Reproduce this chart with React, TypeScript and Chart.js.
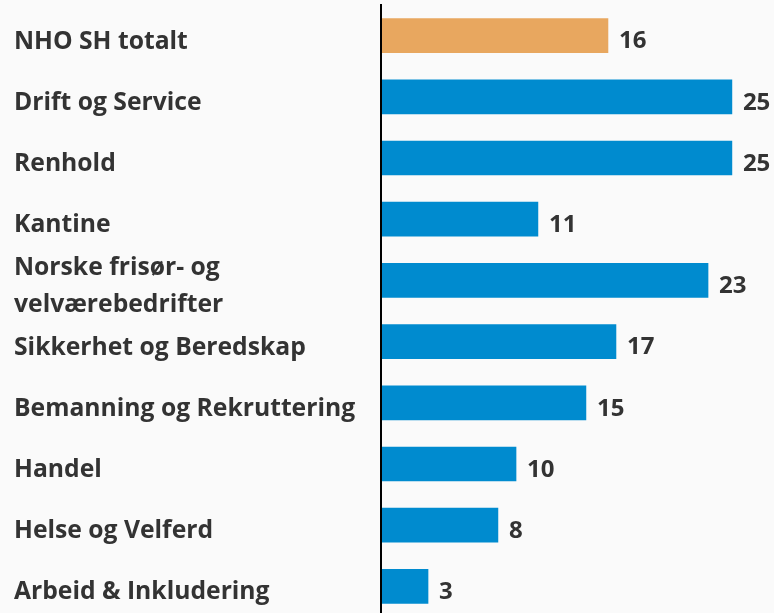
import React, { useEffect, useRef } from "react";
import { Chart, registerables } from "chart.js";

Chart.register(...registerables);

const categories: (string | string[])[] = [
  "NHO SH totalt",
  "Drift og Service",
  "Renhold",
  "Kantine",
  ["Norske frisør- og", "velværebedrifter"],
  "Sikkerhet og Beredskap",
  "Bemanning og Rekruttering",
  "Handel",
  "Helse og Velferd",
  "Arbeid & Inkludering",
];

const values = [16.17, 25.0, 25.0, 11.18, 23.3, 16.74, 14.6, 9.62, 8.33, 3.35];

const barColors = [
  "#E8A75F",
  "#008BCF",
  "#008BCF",
  "#008BCF",
  "#008BCF",
  "#008BCF",
  "#008BCF",
  "#008BCF",
  "#008BCF",
  "#008BCF",
];

const FONT_FAMILY = "'Open Sans', 'Noto Sans', sans-serif";
const TEXT_COLOR = "#333333";

const valueLabelPlugin = {
  id: "valueLabels",
  afterDatasetsDraw(chart: any) {
    const ctx = chart.ctx;
    const meta = chart.getDatasetMeta(0);
    ctx.save();
    ctx.font = `700 24px ${FONT_FAMILY}`;
    ctx.fillStyle = TEXT_COLOR;
    ctx.textAlign = "left";
    ctx.textBaseline = "middle";
    meta.data.forEach((bar: any, i: number) => {
      const v = chart.data.datasets[0].data[i] as number;
      ctx.fillText(String(Math.round(v)), bar.x + 11, bar.y + 6);
    });
    ctx.restore();
  },
};

export default function App() {
  const canvasRef = useRef<HTMLCanvasElement | null>(null);

  useEffect(() => {
    if (!canvasRef.current) return;
    const chart = new Chart(canvasRef.current, {
      type: "bar",
      data: {
        labels: categories,
        datasets: [
          {
            data: values,
            backgroundColor: barColors,
            borderWidth: 0,
            barThickness: 34,
          },
        ],
      },
      options: {
        indexAxis: "y",
        responsive: false,
        animation: false,
        devicePixelRatio: 1,
        layout: { padding: { left: 14, top: 5, bottom: 1, right: 0 } },
        plugins: {
          legend: { display: false },
          tooltip: { enabled: false },
        },
        scales: {
          x: {
            display: false,
            min: 0,
            max: 28,
          },
          y: {
            grid: { display: false },
            border: { display: true, color: "#000000", width: 2, z: 1 },
            ticks: {
              autoSkip: false,
              crossAlign: "far",
              labelOffset: 6,
              color: TEXT_COLOR,
              font: { family: FONT_FAMILY, size: 24.7, weight: "bold", lineHeight: 1.5 },
              padding: 0,
            },
            afterFit: (scale: any) => {
              scale.width = 367;
              scale.paddingTop = 0;
              scale.paddingBottom = 0;
            },
          },
        },
      },
      plugins: [valueLabelPlugin],
    });
    return () => chart.destroy();
  }, []);

  return (
    <div
      style={{
        position: "fixed",
        left: 0,
        top: 0,
        width: 774,
        height: 613,
        overflow: "hidden",
        background: "#FAFAFA",
      }}
    >
      <canvas ref={canvasRef} width={774} height={618} style={{ display: "block" }} />
    </div>
  );
}
